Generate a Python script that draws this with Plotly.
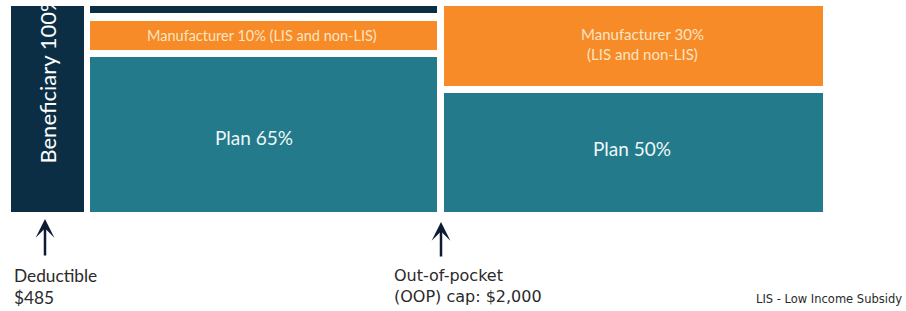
import plotly.graph_objects as go

# ---------------- data ----------------
phases = ["Deductible", "Initial coverage", "Catastrophic"]
seg_phase = [0, 1, 1, 1, 2, 2]
seg_payer = ["Beneficiary", "Plan", "Manufacturer", "Beneficiary", "Plan", "Manufacturer"]
seg_share = [100, 65, 10, 25, 50, 30]
seg_label = ["Beneficiary 100%", "Plan 65%", "Manufacturer 10% (LIS and non-LIS)", "",
             "Plan 50%", "Manufacturer 30%<br>(LIS and non-LIS)"]
milestones = ["Deductible<br>$485", "Out-of-pocket<br>(OOP) cap: $2,000"]
footnote = "LIS - Low Income Subsidy"

# ---------------- schematic geometry (drawing units = page pixels) ----------------
phase_x0 = [11, 90, 444]
phase_x1 = [84, 437, 823]
seg_y0 = [0, 0, 162, 199, 0, 126]
seg_y1 = [266, 155, 191, 300, 119, 300]

colors = {"Beneficiary": "#0c2e45", "Plan": "#227a8b", "Manufacturer": "#f68b27"}

W, H = 906, 311
PLOT_TOP, PLOT_BOTTOM = 6, 212
PLOT_H = PLOT_BOTTOM - PLOT_TOP

fig = go.Figure()
for i in range(len(seg_share)):
    p = seg_phase[i]
    xc = (phase_x0[p] + phase_x1[p]) / 2
    w = phase_x1[p] - phase_x0[p]
    is_text_bar = (p == 0)
    fig.add_trace(go.Bar(
        x=[xc], y=[seg_y1[i] - seg_y0[i]], base=[seg_y0[i]], width=[w],
        marker=dict(color=colors[seg_payer[i]], line=dict(width=0)),
        text=[seg_label[i]] if is_text_bar else None,
        textposition="inside" if is_text_bar else "none",
        insidetextanchor="middle", textangle=-90,
        insidetextfont=dict(family="Lato", size=22, color="#ffffff"),
        hoverinfo="skip", showlegend=False,
    ))

annos = []
annos.append(dict(x=262, y=176.5, xref="x", yref="y", text=seg_label[2], showarrow=False,
                  font=dict(family="Lato", size=14.5, color="#fde4c4")))
annos.append(dict(x=642, y=168, xref="x", yref="y", text=seg_label[5], showarrow=False,
                  font=dict(family="Lato", size=15, color="#fde4c4")))
annos.append(dict(x=254, y=75, xref="x", yref="y", text=seg_label[1], showarrow=False,
                  font=dict(family="Lato", size=19, color="#eef7f7")))
annos.append(dict(x=632, y=64, xref="x", yref="y", text=seg_label[4], showarrow=False,
                  font=dict(family="Lato", size=19, color="#eef7f7")))

def py(pix):
    return (PLOT_BOTTOM - pix) / PLOT_H

for xa, tip, tail in [(45, 219, 257), (441, 222, 258)]:
    annos.append(dict(x=xa, y=py(tip), xref="x", yref="paper", text="", showarrow=True,
                      ax=0, ay=tail - tip, axref="pixel", ayref="pixel",
                      arrowhead=3, arrowsize=1.25, arrowwidth=2.5, arrowcolor="#0d1b33",
                      standoff=0))
annos.append(dict(x=12, y=py(286), xref="x", yref="paper", text=milestones[0], showarrow=False,
                  xanchor="left", yanchor="middle", align="left",
                  font=dict(family="Lato", size=17.3, color="#2a2a2a")))
annos.append(dict(x=392, y=py(286), xref="x", yref="paper", text=milestones[1], showarrow=False,
                  xanchor="left", yanchor="middle", align="left",
                  font=dict(family="DejaVu Sans", size=16, color="#2a2a2a")))
annos.append(dict(x=904, y=py(299), xref="x", yref="paper", text=footnote, showarrow=False,
                  xanchor="right", yanchor="middle", align="right",
                  font=dict(family="DejaVu Sans", size=11.5, color="#2a2a2a")))

fig.update_layout(
    width=W, height=H,
    margin=dict(l=0, r=0, t=PLOT_TOP, b=H - PLOT_BOTTOM),
    paper_bgcolor="white", plot_bgcolor="white",
    barmode="overlay",
    xaxis=dict(range=[0, W], visible=False, fixedrange=True),
    yaxis=dict(range=[0, PLOT_H], visible=False, fixedrange=True),
    annotations=annos,
)
fig.write_html("out.html", config={"displayModeBar": False},
               post_script="document.body.style.margin='0';document.body.style.overflow='hidden';")
